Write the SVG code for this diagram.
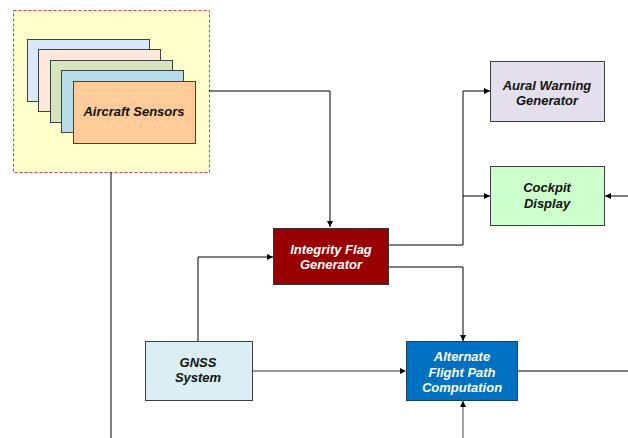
<svg xmlns="http://www.w3.org/2000/svg" width="628" height="438" viewBox="0 0 628 438">
<style>
.box{stroke:#404040;stroke-width:1}
.t{font-family:"Liberation Sans",Arial,sans-serif;font-size:13px;font-weight:bold;font-style:italic;text-anchor:middle}
.dark{fill:#111}
.light{fill:#fff}
.c{fill:none;stroke:#000;stroke-width:1}
.g{fill:none;stroke:#999;stroke-width:2}
.gm{fill:none;stroke:#666;stroke-width:1.2}
</style>
<defs>
<marker id="arr" viewBox="0 0 6 6" refX="6" refY="3" markerWidth="6" markerHeight="6" markerUnits="userSpaceOnUse" orient="auto">
<path d="M0,0 L6,3 L0,6 z" fill="#000"/>
</marker>
</defs>
<rect width="628" height="438" fill="#fff"/>
<g id="sensors-group">
<rect x="13.5" y="10.5" width="196" height="162" fill="#ffffcc" stroke="#cc4444" stroke-width="1" stroke-dasharray="3,2"/>
</g>
<g id="aircraft-sensors">
<rect class="box" x="27.5" y="39.5" width="122" height="62" fill="#dae8fc"/>
<rect class="box" x="38.5" y="49.5" width="122" height="62" fill="#fde9d9"/>
<rect class="box" x="50.5" y="60.5" width="122" height="62" fill="#d7e4bd"/>
<rect class="box" x="61.5" y="70.5" width="122" height="62" fill="#b7dde8"/>
<rect class="box" x="73.5" y="81.5" width="122" height="62" fill="#ffcc99"/>
<text class="t dark" x="134" y="116">Aircraft Sensors</text>
</g>
<g id="connectors">
<polyline class="c" points="209,91 330,91 330,227" marker-end="url(#arr)"/>
<line class="c" x1="111" y1="172" x2="111" y2="438"/>
<polyline class="c" points="389,245 463,245 463,91 490,91" marker-end="url(#arr)"/>
<line class="c" x1="463" y1="196" x2="490" y2="196" marker-end="url(#arr)"/>
<line class="c" x1="628" y1="196" x2="605" y2="196" marker-end="url(#arr)"/>
<polyline class="c" points="389,267 463,267 463,341" marker-end="url(#arr)"/>
<polyline class="c" points="198,341 198,257 273,257" marker-end="url(#arr)"/>
<line class="g" x1="252" y1="371" x2="400" y2="371"/>
<path d="M400,368 L406,371 L400,374 z" fill="#000"/>
<line class="c" x1="517" y1="371" x2="628" y2="371"/>
<line class="gm" x1="463" y1="438" x2="463" y2="401" marker-end="url(#arr)"/>
</g>
<g id="integrity-flag-generator">
<rect x="273.5" y="228.5" width="115" height="56" fill="#990000" stroke="#333"/>
<text class="t light" x="331" y="254">Integrity Flag</text>
<text class="t light" x="331" y="269">Generator</text>
</g>
<g id="aural-warning-generator">
<rect class="box" x="490.5" y="61.5" width="114" height="60" fill="#e4dfec"/>
<text class="t dark" x="547" y="90">Aural Warning</text>
<text class="t dark" x="547" y="105">Generator</text>
</g>
<g id="cockpit-display">
<rect class="box" x="490.5" y="166.5" width="114" height="59" fill="#ccffcc"/>
<text class="t dark" x="547" y="192">Cockpit</text>
<text class="t dark" x="547" y="208">Display</text>
</g>
<g id="gnss-system">
<rect class="box" x="145.5" y="341.5" width="107" height="59" fill="#dbeef4"/>
<text class="t dark" x="198" y="367">GNSS</text>
<text class="t dark" x="198" y="382">System</text>
</g>
<g id="alternate-flight-path">
<rect x="406.5" y="341.5" width="111" height="59" fill="#0070c0" stroke="#1f3d5c"/>
<text class="t light" x="462" y="361">Alternate</text>
<text class="t light" x="462" y="377">Flight Path</text>
<text class="t light" x="462" y="392">Computation</text>
</g>
</svg>
